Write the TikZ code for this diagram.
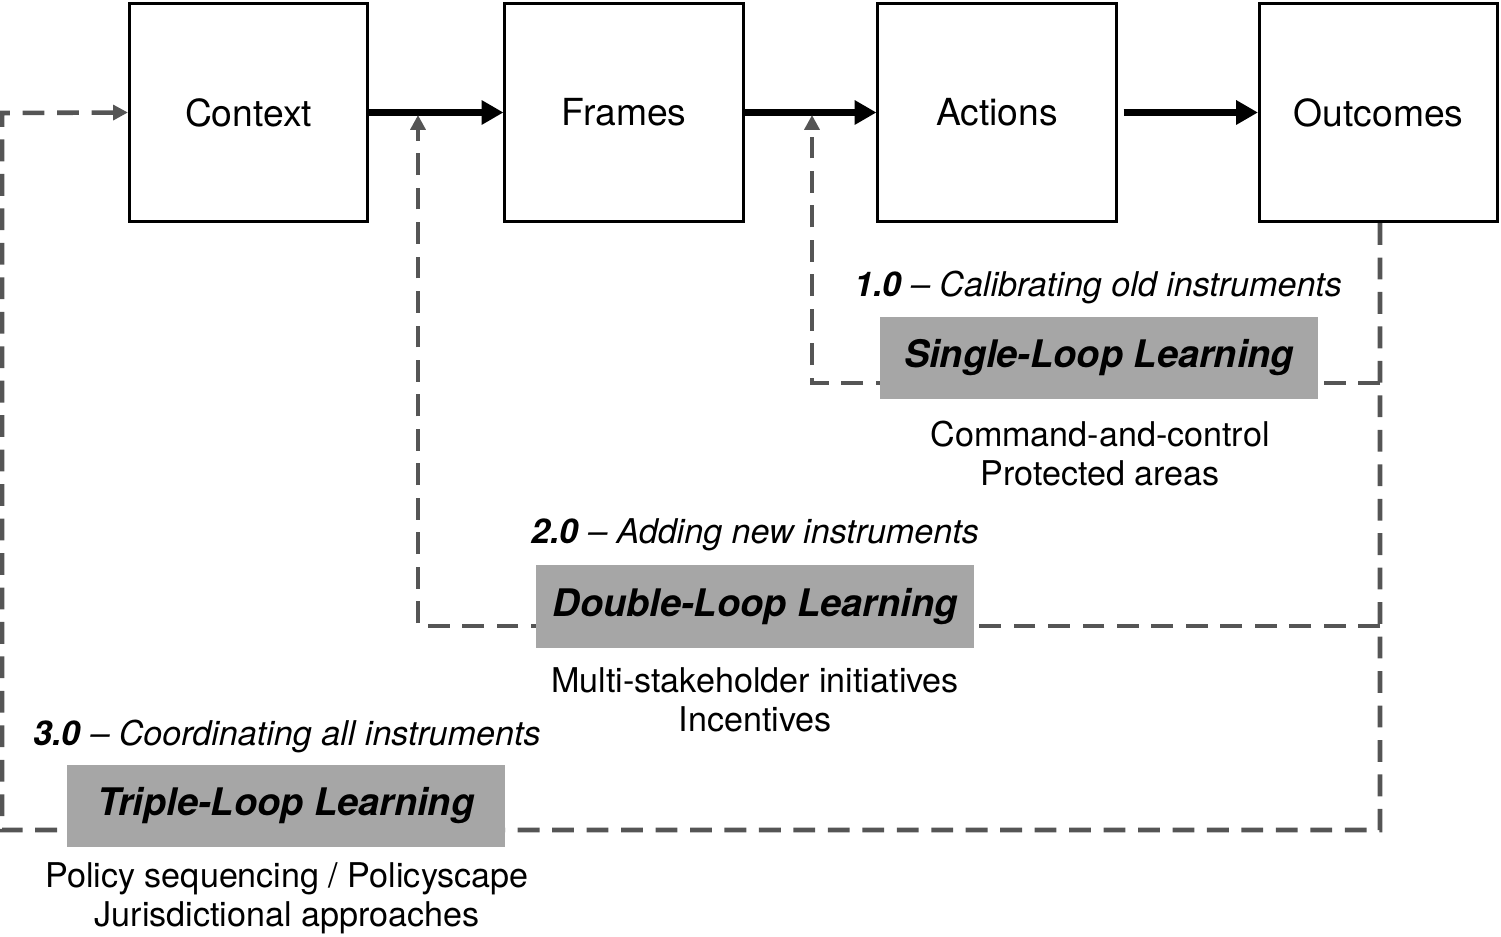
\documentclass[tikz,border=0pt]{standalone}
\usepackage{fontspec}
\setmainfont{TeX Gyre Heros}
\usetikzlibrary{arrows.meta}
\definecolor{loopgray}{RGB}{85,85,85}
\definecolor{learngray}{RGB}{166,166,166}
\tikzset{>/.tip={Triangle[length=6.2pt,width=6.6pt]},
  stage/.style={draw, line width=0.85pt, minimum width=2.38cm, minimum height=2.18cm, font=\fontsize{10.6}{12}\selectfont},
  learn/.style={fill=learngray, minimum width=4.38cm, minimum height=0.82cm, font=\fontsize{10.8}{12}\selectfont\bfseries\itshape},
  caption/.style={anchor=base, inner sep=0pt, font=\fontsize{9.7}{11}\selectfont\itshape},
  items/.style={anchor=north, inner sep=0pt, align=center, font=\fontsize{9.7}{11.2}\selectfont},
  flow/.style={->, line width=1.8pt},
  feedback/.style={line width=1.3pt, loopgray, dash pattern=on 6.2pt off 3.6pt, -{Triangle[length=4.2pt,width=4.2pt]}}}

\begin{document}
\begin{tikzpicture}[x=0.01cm,y=-0.01cm]
\useasboundingbox (0,0) rectangle (1501,937);

\node[stage] (context) at (248.5,112.5) {Context};
\node[stage] (frames) at (624,112.5) {Frames};
\node[stage] (actions) at (997,112.5) {Actions};
\node[stage] (outcomes) at (1378.5,112.5) {Outcomes};

\path[flow] (context) edge (frames);
\path[flow] (frames) edge (actions);
\path[flow] (actions) edge[shorten <=1.7pt] (outcomes);

% feedback loops
\coordinate (single-in) at (812,115);
\coordinate (double-in) at (418,115);
\coordinate (single-r) at (1380,383);
\coordinate (single-l) at (812,383);
\coordinate (double-r) at (1380,626);
\coordinate (double-l) at (418,626);
\coordinate (triple-r) at (1380,830);
\coordinate (triple-l) at (2,830);
\coordinate (triple-u) at (2,113);

\draw[feedback] (outcomes.south -| triple-r) -- (triple-r) -- (triple-l) -- (triple-u) -- (context.west);
\draw[feedback] (single-r) -- (single-l) -- (single-in);
\draw[feedback] (double-r) -- (double-l) -- (double-in);

\node[caption] (single-cap) at (1098,297) {\textbf{1.0} – Calibrating old instruments};
\node[learn] (single) at (1099,358) {Single-Loop Learning};
\node[items] (single-items) at (1100,420) {Command-and-control\\Protected areas};

\node[caption] (double-cap) at (755,543) {\textbf{2.0} – Adding new instruments};
\node[learn] (double) at (755,606.5) {Double-Loop Learning};
\node[items] (double-items) at (755,667) {Multi-stakeholder initiatives\\Incentives};

\node[caption] (triple-cap) at (287,745) {\textbf{3.0} – Coordinating all instruments};
\node[learn] (triple) at (286,806) {Triple-Loop Learning};
\node[items] (triple-items) at (287,862) {Policy sequencing / Policyscape\\Jurisdictional approaches};
\end{tikzpicture}
\end{document}
